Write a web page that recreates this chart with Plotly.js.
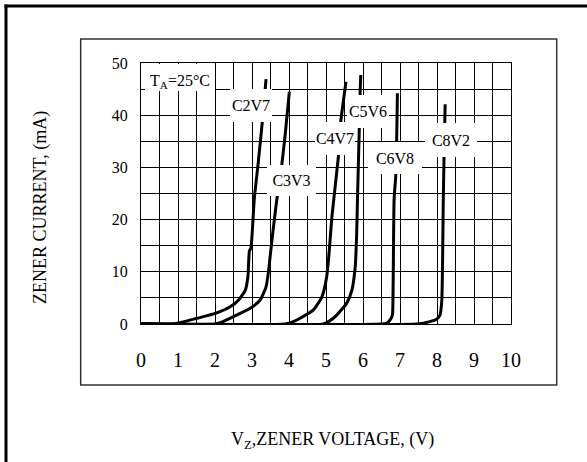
<!DOCTYPE html>
<html>
<head>
<meta charset="utf-8">
<script src="https://cdn.plot.ly/plotly-3.0.1.min.js"></script>
<style>html,body{margin:0;padding:0;background:#fff;}#chart{width:587px;height:462px;}</style>
</head>
<body>
<div id="chart"></div>
<script>
// ---- data ----
const seriesNames = ["C2V7", "C3V3", "C4V7", "C5V6", "C6V8", "C8V2"];
const c2v7_v  = [0, 0.84, 1.2, 1.51, 2.01, 2.41, 2.64, 2.82, 2.89, 2.93, 2.97, 3.06, 3.17, 3.28, 3.38];
const c2v7_ma = [0, 0, 0.5, 1.09, 2.04, 3.3, 4.6, 6.5, 9.1, 14.0, 14.5, 23.8, 31.0, 38.8, 46.9];
const c3v3_v  = [0, 2.01, 2.2, 2.5, 2.95, 3.22, 3.38, 3.45, 3.51, 3.58, 3.67, 3.81, 3.90, 4.01];
const c3v3_ma = [0, 0, 0.4, 1.4, 3.0, 4.6, 7.1, 10.3, 14.2, 18.6, 23.8, 30.8, 36.5, 44.5];
const c4v7_v  = [0, 3.90, 4.10, 4.30, 4.66, 4.89, 5.02, 5.09, 5.16, 5.34, 5.40, 5.54];
const c4v7_ma = [0, 0, 0.4, 1.1, 2.7, 5.2, 9.1, 14.2, 20.6, 32.4, 38.8, 46.4];
const c5v6_v  = [0, 4.93, 5.10, 5.29, 5.56, 5.70, 5.79, 5.83, 5.85, 5.90, 5.92, 5.94];
const c5v6_ma = [0, 0, 0.6, 1.7, 4.0, 6.5, 11.0, 17.4, 23.8, 37.5, 43.9, 47.7];
const c6v8_v  = [0, 6.51, 6.65, 6.73, 6.78, 6.80, 6.84, 6.89, 6.91, 6.93];
const c6v8_ma = [0, 0, 0.2, 0.77, 1.4, 2.0, 23.8, 28.9, 35.2, 44.2];
const c8v2_v  = [0, 7.45, 7.81, 7.99, 8.08, 8.13, 8.17, 8.19, 8.21, 8.22];
const c8v2_ma = [0, 0, 0.45, 0.9, 1.7, 4.6, 23.8, 32.0, 38.4, 42.1];
const xTickVals = [0, 1, 2, 3, 4, 5, 6, 7, 8, 9, 10];
const yTickVals = [0, 10, 20, 30, 40, 50];
const tempLabel = "T<sub>A</sub>=25°C";
const xTitle = "V<sub>Z</sub>,ZENER VOLTAGE, (V)";
const yTitle = "ZENER CURRENT, (mA)";

const seriesV  = [c2v7_v, c3v3_v, c4v7_v, c5v6_v, c6v8_v, c8v2_v];
const seriesMA = [c2v7_ma, c3v3_ma, c4v7_ma, c5v6_ma, c6v8_ma, c8v2_ma];

// ---- layout helpers ----
const W = 587, H = 462;
const M = {l: 141, r: 76, t: 63, b: 138};
const PW = W - M.l - M.r, PH = H - M.t - M.b;
const px = x => (x - M.l) / PW;      // page pixel -> paper x
const py = y => (H - M.b - y) / PH;  // page pixel -> paper y
const FONT = "Liberation Serif";

const traces = seriesNames.map((n, i) => ({
  type: "scatter", mode: "lines", name: n,
  x: seriesV[i], y: seriesMA[i],
  line: {color: "#000", width: 3, shape: "spline", smoothing: 0.5},
  hoverinfo: "skip", showlegend: false
}));

// label boxes: [text, centre x page px, centre y page px, box w, box h, valign]
const labelBoxes = [
  [tempLabel, 180, 77.5, 70, 27, "bottom"],
  [seriesNames[0], 250.8, 105.5, 42, 33, "middle"],
  [seriesNames[1], 291.5, 180.5, 49, 31, "middle"],
  [seriesNames[2], 335, 138.3, 40, 33, "middle"],
  [seriesNames[3], 367.5, 111.7, 42, 33, "middle"],
  [seriesNames[4], 394.8, 157.5, 54, 32, "middle"],
  [seriesNames[5], 450.8, 139.8, 52, 34, "middle"]
];

const annotations = labelBoxes.map(b => ({
  xref: "paper", yref: "paper", x: px(b[1]), y: py(b[2]),
  xanchor: "center", yanchor: "middle",
  text: b[0], showarrow: false,
  width: b[3], height: b[4], valign: b[5], borderpad: 0, borderwidth: 0,
  bgcolor: "#fff", font: {family: FONT, size: 16, color: "#000"}
}));
annotations.push({
  xref: "paper", yref: "paper", x: px(332), y: py(440),
  xanchor: "center", yanchor: "middle", showarrow: false,
  text: xTitle, font: {family: FONT, size: 18, color: "#000"}
});
annotations.push({
  xref: "paper", yref: "paper", x: px(40), y: py(208),
  xanchor: "center", yanchor: "middle", showarrow: false, textangle: -90,
  text: yTitle, font: {family: FONT, size: 18, color: "#000"}
});

const shapes = [
  {type: "rect", xref: "paper", yref: "paper", x0: px(80.7), x1: px(556.7), y0: py(385), y1: py(39),
   line: {color: "#333", width: 1.5}, fillcolor: "rgba(0,0,0,0)", layer: "below"},
  {type: "line", xref: "paper", yref: "paper", x0: px(6), x1: px(6), y0: py(470), y1: py(4.5),
   line: {color: "#000", width: 3}},
  {type: "line", xref: "paper", yref: "paper", x0: px(4.5), x1: px(600), y0: py(6), y1: py(6),
   line: {color: "#000", width: 3}}
];

const layout = {
  width: W, height: H, margin: M,
  paper_bgcolor: "#fff", plot_bgcolor: "#fff",
  font: {family: FONT, color: "#000"},
  xaxis: {
    range: [0, 10], tickvals: xTickVals, ticks: "", ticklabelstandoff: 18,
    showgrid: true, gridcolor: "#000", gridwidth: 1, zeroline: false,
    showline: true, mirror: true, linecolor: "#000", linewidth: 1,
    minor: {dtick: 0.5, showgrid: true, gridcolor: "#000", gridwidth: 1},
    tickfont: {family: FONT, size: 20, color: "#000"}, fixedrange: true
  },
  yaxis: {
    range: [0, 50], tickvals: yTickVals, ticks: "", ticklabelstandoff: 9,
    showgrid: true, gridcolor: "#000", gridwidth: 1, zeroline: false,
    showline: true, mirror: true, linecolor: "#000", linewidth: 1,
    minor: {dtick: 5, showgrid: true, gridcolor: "#000", gridwidth: 1},
    tickfont: {family: FONT, size: 16, color: "#000"}, fixedrange: true
  },
  annotations: annotations,
  shapes: shapes,
  showlegend: false
};

Plotly.newPlot("chart", traces, layout, {displayModeBar: false, staticPlot: true});
</script>
</body>
</html>
